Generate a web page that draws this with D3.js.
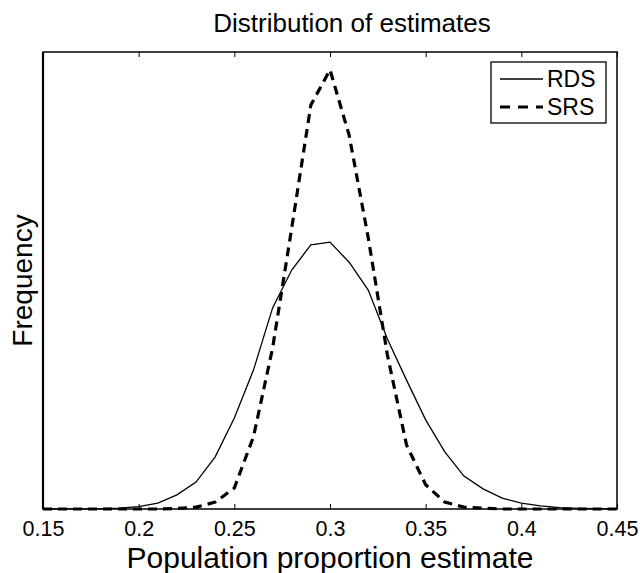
<!DOCTYPE html>
<html>
<head>
<meta charset="utf-8">
<script src="https://cdn.jsdelivr.net/npm/d3@7"></script>
<style>
    body { margin: 0; background: #fff; }
    svg { display: block; font-family: "Liberation Sans", Arial, sans-serif; }
</style>
</head>
<body>
<div id="chart"></div>
<script>
// estimate bins and relative frequency of each design
var estimates = [0.15, 0.16, 0.17, 0.18, 0.19, 0.20, 0.21, 0.22, 0.23, 0.24,
    0.25, 0.26, 0.27, 0.28, 0.29, 0.30, 0.31, 0.32, 0.33, 0.34,
    0.35, 0.36, 0.37, 0.38, 0.39, 0.40, 0.41, 0.42, 0.43, 0.44, 0.45];

var rdsFreq = [0, 0.0002, 0.0004, 0.0007, 0.002, 0.005, 0.013, 0.031, 0.059, 0.114,
    0.199, 0.304, 0.440, 0.523, 0.578, 0.584, 0.540, 0.479, 0.372, 0.282,
    0.195, 0.125, 0.072, 0.044, 0.024, 0.013, 0.007, 0.003, 0.0015, 0.0007, 0.0002];

var srsFreq = [0, 0, 0, 0, 0, 0, 0, 0.001, 0.004, 0.015,
    0.046, 0.158, 0.352, 0.615, 0.884, 0.961, 0.818, 0.593, 0.337, 0.140,
    0.053, 0.015, 0.004, 0.002, 0, 0, 0, 0, 0, 0, 0];

var xTicks = [0.15, 0.2, 0.25, 0.3, 0.35, 0.4, 0.45];
var seriesNames = ['RDS', 'SRS'];

var W = 640, H = 573;
var margin = {top: 52, right: 23, bottom: 64, left: 43};
var plotW = W - margin.left - margin.right,
    plotH = H - margin.top - margin.bottom;

var svg = d3.select('#chart').append('svg')
    .attr('width', W)
    .attr('height', H);

var x = d3.scaleLinear().domain([0.15, 0.45]).range([0, plotW]);
var y = d3.scaleLinear().domain([0, 1]).range([plotH, 0]);

var g = svg.append('g').attr('transform', 'translate(' + margin.left + ',' + margin.top + ')');

// bottom axis, ticks point inward like matlab
var xAxis = d3.axisBottom(x).tickValues(xTicks).tickSizeInner(-5).tickSizeOuter(0)
    .tickPadding(0).tickFormat(d3.format('.3~g'));
var gx = g.append('g').attr('transform', 'translate(0,' + plotH + ')').call(xAxis);
gx.select('.domain').remove();
gx.selectAll('text')
    .attr('y', 27).attr('dy', null)
    .attr('font-size', 21.5)
    .attr('font-family', '"Liberation Sans", Arial, sans-serif')
    .attr('fill', '#000');
gx.selectAll('line').attr('stroke', '#000');

var xTop = d3.axisTop(x).tickValues(xTicks).tickSizeInner(-5).tickSizeOuter(0).tickFormat('');
var gt = g.append('g').call(xTop);
gt.select('.domain').remove();
gt.selectAll('line').attr('stroke', '#000');

var line = d3.line()
    .x(function(d, i) { return x(estimates[i]); })
    .y(function(d) { return y(d); });

g.append('path').datum(rdsFreq)
    .attr('d', line)
    .attr('fill', 'none')
    .attr('stroke', '#000')
    .attr('stroke-width', 1.3);

g.append('path').datum(srsFreq)
    .attr('d', line)
    .attr('fill', 'none')
    .attr('stroke', '#000')
    .attr('stroke-width', 3.2)
    .attr('stroke-dasharray', '9,6');

// axes box
g.append('rect')
    .attr('width', plotW).attr('height', plotH)
    .attr('fill', 'none').attr('stroke', '#000').attr('stroke-width', 1.5);
g.append('line').attr('x1', 0).attr('x2', 0).attr('y1', 0).attr('y2', plotH)
    .attr('stroke', '#000').attr('stroke-width', 2.2);

// legend
var leg = g.append('g').attr('transform', 'translate(' + (plotW - 126) + ',10)');
leg.append('rect').attr('width', 115).attr('height', 61)
    .attr('fill', '#fff').attr('stroke', '#000').attr('stroke-width', 1.3);
seriesNames.forEach(function(name, i) {
    var ly = 17 + i * 28;
    leg.append('line')
        .attr('x1', 9).attr('x2', 52).attr('y1', ly).attr('y2', ly)
        .attr('stroke', '#000')
        .attr('stroke-width', i === 0 ? 1.3 : 3.2)
        .attr('stroke-dasharray', i === 0 ? null : '10,8');
    leg.append('text').attr('x', 56).attr('y', ly).attr('dy', '0.36em')
        .attr('font-size', 23).text(name);
});

svg.append('text')
    .attr('x', 352).attr('y', 32)
    .attr('text-anchor', 'middle').attr('font-size', 26)
    .text('Distribution of estimates');

svg.append('text')
    .attr('x', margin.left + plotW / 2).attr('y', 568)
    .attr('text-anchor', 'middle').attr('font-size', 30)
    .text('Population proportion estimate');

svg.append('text')
    .attr('transform', 'translate(32,' + (margin.top + plotH / 2) + ') rotate(-90)')
    .attr('text-anchor', 'middle').attr('font-size', 28)
    .text('Frequency');
</script>
</body>
</html>
